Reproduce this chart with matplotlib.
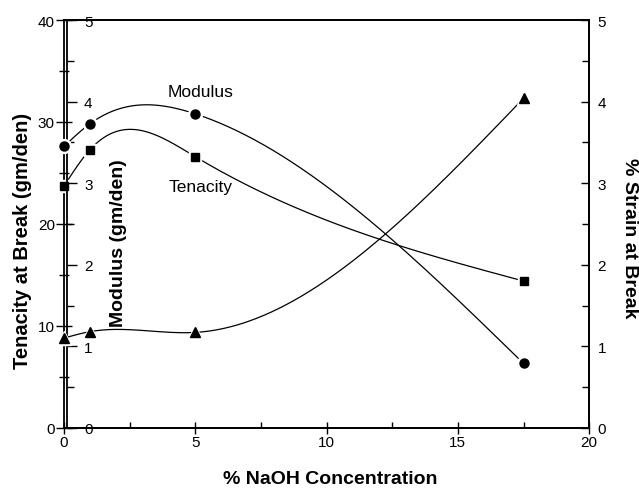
import numpy as np
import matplotlib
matplotlib.use("Agg")
import matplotlib.pyplot as plt
from matplotlib.ticker import MultipleLocator

plt.rcParams['font.family'] = ['Liberation Sans', 'DejaVu Sans']

naoh = [0, 1, 5, 17.5]
tenacity = [23.7, 27.3, 26.6, 14.4]
modulus = [3.45, 3.73, 3.85, 0.79]
strain = [1.10, 1.18, 1.17, 4.04]


def natural_spline(x, y, n=300):
    x = np.asarray(x, float)
    y = np.asarray(y, float)
    k = len(x)
    h = np.diff(x)
    A = np.zeros((k, k))
    r = np.zeros(k)
    A[0, 0] = 1
    A[-1, -1] = 1
    for i in range(1, k - 1):
        A[i, i - 1] = h[i - 1]
        A[i, i] = 2 * (h[i - 1] + h[i])
        A[i, i + 1] = h[i]
        r[i] = 3 * ((y[i + 1] - y[i]) / h[i] - (y[i] - y[i - 1]) / h[i - 1])
    c = np.linalg.solve(A, r)
    b = np.zeros(k - 1)
    d = np.zeros(k - 1)
    for i in range(k - 1):
        b[i] = (y[i + 1] - y[i]) / h[i] - h[i] * (2 * c[i] + c[i + 1]) / 3
        d[i] = (c[i + 1] - c[i]) / (3 * h[i])
    xs = np.linspace(x[0], x[-1], n)
    idx = np.clip(np.searchsorted(x, xs, side='right') - 1, 0, k - 2)
    dx = xs - x[idx]
    ys = y[idx] + b[idx] * dx + c[idx] * dx ** 2 + d[idx] * dx ** 3
    return xs, ys


fig = plt.figure(figsize=(6.39, 4.89), dpi=100)
ax = fig.add_axes([0.1, 0.123, 0.822, 0.834])
ax_mod = ax.twinx()
ax_str = ax.twinx()

lw = 0.9
# tenacity
xs, ys = natural_spline(naoh, tenacity)
ax.plot(xs, ys, color='black', lw=lw, zorder=2)
ax.plot(naoh, tenacity, 's', ms=9, color='white', zorder=3, clip_on=False)
ax.plot(naoh, tenacity, 's', ms=6, color='black', zorder=4, clip_on=False)
# modulus
xs, ys = natural_spline(naoh, modulus)
ax_mod.plot(xs, ys, color='black', lw=lw, zorder=2)
ax_mod.plot(naoh, modulus, 'o', ms=10, color='white', zorder=3, clip_on=False)
ax_mod.plot(naoh, modulus, 'o', ms=6.5, color='black', zorder=4, clip_on=False)
# strain
xs, ys = natural_spline(naoh, strain)
ax_str.plot(xs, ys, color='black', lw=lw, zorder=2)
ax_str.plot(naoh, strain, '^', ms=10, color='white', zorder=3, clip_on=False)
ax_str.plot(naoh, strain, '^', ms=6.5, color='black', zorder=4, clip_on=False)

ax.set_xlim(0, 20)
ax.set_ylim(0, 40)
ax_mod.set_ylim(0, 5)
ax_str.set_ylim(0, 5)

for a in (ax, ax_mod, ax_str):
    for s in a.spines.values():
        s.set_linewidth(1.3)

# x axis
ax.xaxis.set_major_locator(MultipleLocator(5))
ax.xaxis.set_minor_locator(MultipleLocator(2.5))
ax.tick_params(axis='x', which='major', direction='inout', length=8, width=1, labelsize=11, pad=1)
ax.tick_params(axis='x', which='minor', direction='in', length=4, width=1)

# tenacity axis
ax.yaxis.set_major_locator(MultipleLocator(10))
ax.yaxis.set_minor_locator(MultipleLocator(5))
ax.tick_params(axis='y', which='major', direction='inout', length=11, width=1, labelsize=11, pad=1)
ax.tick_params(axis='y', which='minor', direction='inout', length=7, width=1)
ax.set_ylabel('Tenacity at Break (gm/den)', fontsize=14.5, fontweight='bold', va='center')
ax.yaxis.set_label_coords(-0.078, 0.46)
ax.set_xlabel('% NaOH Concentration', fontsize=14, fontweight='bold', va='center')
ax.xaxis.set_label_coords(0.507, -0.125)

# modulus axis (inner left)
ax_mod.yaxis.tick_left()
ax_mod.yaxis.set_label_position('left')
ax_mod.spines['left'].set_position(('outward', -2.5))
ax_mod.spines['right'].set_visible(False)
ax_mod.spines['top'].set_visible(False)
ax_mod.spines['bottom'].set_visible(False)
ax_mod.set_yticks(np.arange(0, 6, 1))
ax_mod.yaxis.set_minor_locator(MultipleLocator(0.5))
ax_mod.tick_params(axis='y', which='major', direction='in', length=7, width=1, labelsize=11, pad=-12)
ax_mod.tick_params(axis='y', which='minor', direction='in', length=5, width=1)
for lbl in ax_mod.get_yticklabels():
    lbl.set_horizontalalignment('left')
ax_mod.set_ylabel('Modulus (gm/den)', fontsize=14, fontweight='bold', va='center')
ax_mod.yaxis.set_label_coords(0.103, 0.456)

# strain axis (right)
ax_str.spines['left'].set_visible(False)
ax_str.set_yticks(np.arange(0, 6, 1))
ax_str.yaxis.set_minor_locator(MultipleLocator(0.5))
ax_str.tick_params(axis='y', which='major', direction='in', length=6, width=1, labelsize=11, pad=6)
ax_str.tick_params(axis='y', which='minor', direction='in', length=5, width=1)
ax_str.set_ylabel('% Strain at Break', fontsize=14, fontweight='bold', rotation=270, va='center')
ax_str.yaxis.set_label_coords(1.076, 0.468)

ax.text(5.2, 33.0, 'Modulus', fontsize=12.5, ha='center', va='center')
ax.text(5.2, 23.7, 'Tenacity', fontsize=12.5, ha='center', va='center')

fig.savefig('out.png', dpi=100)
